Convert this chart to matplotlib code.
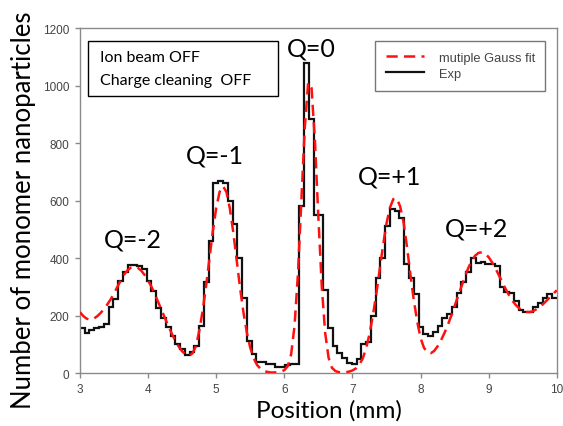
import numpy as np
import matplotlib.pyplot as plt
from matplotlib.patches import Rectangle

# -----------------------------
# Data
# -----------------------------
# Exp: histogram counts, bins of 0.07 mm from 3.0 to 10.0 mm
bin_edges = np.round(np.linspace(3.0, 10.0, 101), 3)
exp_counts = [
    155, 139, 150, 156, 161, 170, 228, 257, 321, 350,
    375, 377, 374, 362, 321, 286, 225, 192, 159, 130,
    101, 83, 62, 72, 95, 162, 316, 460, 660, 669,
    660, 600, 520, 400, 260, 110, 65, 40, 37, 33,
    31, 20, 20, 28, 30, 30, 582, 1080, 885, 548,
    548, 290, 158, 95, 70, 52, 35, 33, 49, 101,
    107, 200, 330, 400, 513, 571, 565, 540, 380, 330,
    275, 160, 136, 128, 142, 162, 190, 205, 228, 280,
    315, 350, 400, 382, 385, 379, 378, 373, 300, 283,
    280, 250, 220, 213, 212, 230, 245, 260, 275, 262,
]

# multiple Gauss fit, read every 0.05 mm
fit_pos = np.round(np.linspace(3.0, 10.0, 141), 2)
fit_vals = [
    212, 198, 189, 186, 189, 197, 208, 222, 238, 256,
    277, 300, 323, 343, 358, 367, 370, 366, 356, 341,
    322, 300, 274, 246, 218, 190, 162, 136, 112, 92,
    76, 65, 60, 68, 92, 145, 215, 300, 396, 492,
    574, 630, 650, 630, 573, 491, 394, 297, 211, 141,
    88, 52, 28, 15, 7, 4, 2, 2, 3, 5,
    10, 24, 65, 164, 345, 595, 852, 1010, 991, 805,
    541, 301, 139, 53, 18, 7, 3, 2, 3, 5,
    9, 16, 29, 50, 85, 135, 200, 275, 360, 445,
    520, 575, 605, 608, 580, 525, 440, 345, 255, 180,
    122, 88, 72, 69, 77, 93, 114, 139, 167, 199,
    233, 268, 302, 335, 365, 390, 408, 418, 420, 415,
    403, 385, 364, 340, 316, 292, 270, 251, 236, 225,
    217, 213, 212, 215, 222, 230, 240, 252, 264, 276,
    288,
]

# charge state labels and where they sit
q_labels = ["Q=-2", "Q=-1", "Q=0", "Q=+1", "Q=+2"]
q_x = [3.77, 4.98, 6.39, 7.54, 8.82]
q_y = [466, 758, 1130, 685, 504]

# -----------------------------
# Plot
# -----------------------------
label_font = "Lato"
tick_font = "Liberation Sans"
axis_gray = "#8a8a8a"

fig = plt.figure(figsize=(5.63, 4.27), dpi=100)
ax = fig.add_axes([0.142, 0.124, 0.847, 0.808])

ax.plot(fit_pos, fit_vals, color="#ff1010", lw=1.8, ls=(0, (4.5, 2.5)),
        label="mutiple Gauss fit", zorder=3)
ax.stairs(exp_counts, bin_edges, baseline=None, color="#111111", lw=1.6,
          label="Exp", zorder=2)

for lab, xq, yq in zip(q_labels, q_x, q_y):
    ax.text(xq, yq, lab, ha="center", va="center", fontsize=18,
            family=label_font, color="black")

# info box, top left
ax.add_patch(Rectangle((0.017, 0.803), 0.398, 0.159, transform=ax.transAxes,
                       fc="white", ec="black", lw=1.0, zorder=4))
ax.text(0.042, 0.916, "Ion beam OFF", transform=ax.transAxes, ha="left",
        va="center", fontsize=11.5, family=label_font, zorder=5)
ax.text(0.042, 0.849, "Charge cleaning  OFF", transform=ax.transAxes,
        ha="left", va="center", fontsize=11.5, family=label_font, zorder=5)

leg = ax.legend(loc="upper right", bbox_to_anchor=(0.976, 0.962),
                prop={"family": tick_font, "size": 9.3},
                frameon=True, fancybox=False, edgecolor="#555555",
                handlelength=3.0, borderpad=0.82, labelspacing=0.32,
                handletextpad=1.1, borderaxespad=0)
leg.get_frame().set_linewidth(1.0)
for t in leg.get_texts():
    t.set_color("#444444")

ax.set_xlim(3, 10)
ax.set_ylim(0, 1200)
ax.set_xticks(range(3, 11))
ax.set_yticks(range(0, 1201, 200))
ax.tick_params(direction="out", length=3.5, width=1, color=axis_gray,
               labelsize=8.5, labelcolor="#444444")
ax.tick_params(axis="x", pad=4)
ax.tick_params(axis="y", pad=4)
for lbl in ax.get_xticklabels() + ax.get_yticklabels():
    lbl.set_family(tick_font)
for s in ax.spines.values():
    s.set_color(axis_gray)
    s.set_linewidth(1.0)

ax.set_xlabel("Position (mm)", fontsize=17.5, family=label_font)
ax.set_ylabel("Number of monomer nanoparticles", fontsize=18.5,
              family=label_font)
ax.xaxis.set_label_coords(0.522, -0.076)
ax.yaxis.set_label_coords(-0.092, 0.475)

fig.savefig("out.png", dpi=100)
